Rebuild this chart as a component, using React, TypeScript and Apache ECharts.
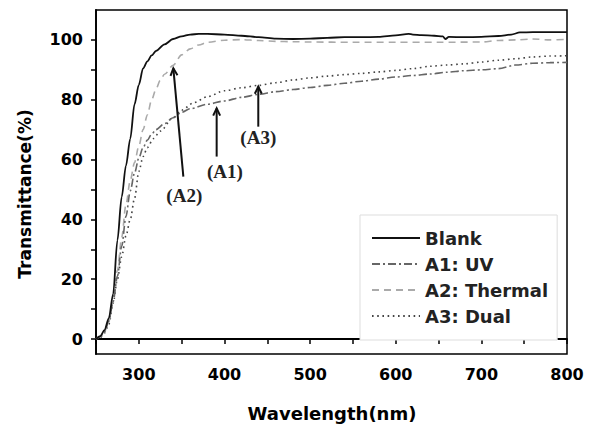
import React, { useEffect, useRef } from "react";
import * as echarts from "echarts";

// ---- data ----
const blankX = [250,255,260,265,270,275,280,285,290,295,300,305,310,315,320,330,340,350,360,370,380,400,420,440,460,480,500,520,540,560,580,600,615,620,630,645,655,658,662,680,700,720,735,745,760,780,800];
const blankY = [0,1,3,7,15,33,47.5,58,67,78.5,85,90.5,92.8,94.8,96.3,98.5,100.3,101.2,101.8,102,102,101.8,101.4,100.9,100.4,100.3,100.4,100.7,100.9,100.9,101,101.5,102,101.8,101.6,101.4,101.2,100.3,101,100.9,101,101.3,101.8,102.5,102.6,102.6,102.6];

const uvX = [250,255,260,265,270,275,280,285,290,295,300,305,310,315,320,330,340,350,360,380,400,420,440,460,480,500,520,540,560,580,600,620,640,660,680,700,720,740,760,780,800];
const uvY = [0,0.8,2.5,6,12.5,21,31,41,49.5,55.5,60.5,64,66.5,68.5,70,72,74,75.8,77,78.5,79.6,80.8,81.8,82.7,83.4,84.1,84.8,85.5,86.2,86.9,87.6,88.1,88.6,89.2,89.7,90,90.4,91.6,92.2,92.4,92.5];

const thermalX = [250,255,260,265,270,275,280,285,290,295,300,305,310,315,320,325,330,340,350,360,370,380,400,420,440,460,480,500,550,600,650,700,720,740,760,780,800];
const thermalY = [0,0.8,2.5,6,13,23,34,45,53,59,64.5,70,75,80,83.5,86.5,88.5,91.5,95,97,98.3,99.2,99.9,100.1,99.8,99.5,99.4,99.3,99.2,99.2,99.2,99.3,99.8,100,100.3,100,100.2];

const dualX = [250,255,260,265,270,275,280,285,290,295,300,305,310,317,325,340,350,364,380,400,420,440,460,480,500,520,540,560,580,600,620,640,660,680,700,720,740,760,780,800];
const dualY = [0,0.5,2,5,12,20,27.5,34.5,40,47,56,61,64,67,69.5,74,76.5,79,81,83,84,84.8,85.7,86.6,87.3,87.9,88.4,88.8,89.3,89.8,90.4,91.2,91.6,92,92.6,93.2,93.7,94.3,94.6,94.7];

const seriesNames = ["Blank", "A1: UV", "A2: Thermal", "A3: Dual"];

const xTicks = [250,300,350,400,450,500,550,600,650,700,750,800];
const xLabels = [300,400,500,600,700,800];
const yTicks = [0,10,20,30,40,50,60,70,80,90,100];
const yLabels = [0,20,40,60,80,100];

const arrowLabels = ["(A2)", "(A1)", "(A3)"];
const arrowTail = [[352, 54.3], [390.9, 61], [439.5, 71]];
const arrowTip = [[340.3, 90.5], [390.9, 77.1], [439.5, 84.4]];
const labelPos = [[353.1, 48.1], [400.6, 55.9], [439.5, 67.4]];

const zip = (xs: number[], ys: number[]) => xs.map((x, i) => [x, ys[i]]);

const SANS = "DejaVu Sans";
const SERIF = "Liberation Serif";

export default function App() {
  const ref = useRef<HTMLDivElement>(null);
  useEffect(() => {
    if (!ref.current) return;
    const chart = echarts.init(ref.current, null, { renderer: "svg" });
    const lineCommon = { type: "line", showSymbol: false, symbol: "none", symbolSize: 0, smooth: 0.3, smoothMonotone: "x" };
    chart.setOption({
      animation: false,
      backgroundColor: "#fff",
      grid: { left: 96, right: 28, top: 10, bottom: 75, show: true, borderColor: "#000", borderWidth: 1.5, backgroundColor: "transparent" },
      xAxis: {
        type: "value", min: 250, max: 800,
        splitLine: { show: false },
        axisLine: { show: true, lineStyle: { color: "#000", width: 1.8 } },
        axisTick: { show: true, length: 5, customValues: xTicks, lineStyle: { color: "#000", width: 1.5 } },
        axisLabel: { customValues: xLabels, margin: 12, color: "#000", fontFamily: SANS, fontWeight: "bold", fontSize: 16 },
      },
      yAxis: {
        type: "value", min: -5, max: 110,
        splitLine: { show: false },
        axisLine: { show: true, onZero: false, lineStyle: { color: "#000", width: 1.8 } },
        axisTick: { show: true, length: 5, customValues: yTicks, lineStyle: { color: "#000", width: 1.5 } },
        axisLabel: { customValues: yLabels, margin: 13, color: "#000", fontFamily: SANS, fontWeight: "bold", fontSize: 16 },
      },
      legend: {
        data: seriesNames,
        orient: "vertical",
        left: 360, top: 215,
        padding: [14, 9, 15, 11],
        itemWidth: 48, itemHeight: 14, itemGap: 8,
        borderColor: "#ddd", borderWidth: 1,
        backgroundColor: "#fff",
        itemStyle: { opacity: 0 },
        textStyle: { color: "#222", fontFamily: SANS, fontWeight: "bold", fontSize: 18, lineHeight: 18 },
      },
      graphic: [
        { type: "text", x: 332, y: 413, style: { text: "Wavelength(nm)", fontFamily: SANS, fontWeight: "bold", fontSize: 18, fill: "#000", align: "center", verticalAlign: "middle" } },
        { type: "text", x: 25, y: 194, rotation: Math.PI / 2, style: { text: "Transmittance(%)", fontFamily: SANS, fontWeight: "bold", fontSize: 17, fill: "#000", align: "center", verticalAlign: "middle" } },
      ],
      series: [
        { ...lineCommon, name: seriesNames[3], data: zip(dualX, dualY), color: "#444", lineStyle: { color: "#444", width: 1.6, type: [1.6, 3.6] }, z: 2 },
        { ...lineCommon, name: seriesNames[2], data: zip(thermalX, thermalY), color: "#aaa", lineStyle: { color: "#aaa", width: 1.6, type: [7, 5] }, z: 2 },
        { ...lineCommon, name: seriesNames[1], data: zip(uvX, uvY), color: "#666", lineStyle: { color: "#666", width: 1.6, type: [8, 3, 2, 3] }, z: 3 },
        { ...lineCommon, name: seriesNames[0], data: zip(blankX, blankY), color: "#111", lineStyle: { color: "#111", width: 1.8, type: "solid" }, z: 4 },
        {
          type: "custom",
          name: "arrows",
          clip: false,
          silent: true,
          data: arrowTail.map((t, i) => [t[0], t[1], arrowTip[i][0], arrowTip[i][1]]),
          renderItem: (params: any, api: any) => {
            const a = api.coord([api.value(0), api.value(1)]);
            const b = api.coord([api.value(2), api.value(3)]);
            const ang = Math.atan2(b[1] - a[1], b[0] - a[0]);
            const L = 8, w = 0.45;
            const p1 = [b[0] - L * Math.cos(ang - w), b[1] - L * Math.sin(ang - w)];
            const p2 = [b[0] - L * Math.cos(ang + w), b[1] - L * Math.sin(ang + w)];
            return {
              type: "group",
              children: [
                { type: "line", shape: { x1: a[0], y1: a[1], x2: b[0], y2: b[1] }, style: { stroke: "#111", lineWidth: 2 } },
                { type: "polyline", shape: { points: [p1, b, p2] }, style: { stroke: "#111", lineWidth: 2, fill: "none" } },
              ],
            };
          },
          z: 5,
        },
        {
          type: "custom",
          name: "arrowLabels",
          clip: false,
          silent: true,
          data: labelPos.map((p) => [p[0], p[1]]),
          renderItem: (params: any, api: any) => {
            const c = api.coord([api.value(0), api.value(1)]);
            return {
              type: "text",
              x: c[0], y: c[1],
              style: { text: arrowLabels[params.dataIndex], fontFamily: SERIF, fontWeight: "bold", fontSize: 19, fill: "#222", align: "center", verticalAlign: "middle" },
            };
          },
          z: 5,
        },
      ],
    });
    return () => chart.dispose();
  }, []);
  return <div ref={ref} style={{ position: "fixed", left: 0, top: 0, width: 595, height: 429, background: "#fff" }} />;
}
